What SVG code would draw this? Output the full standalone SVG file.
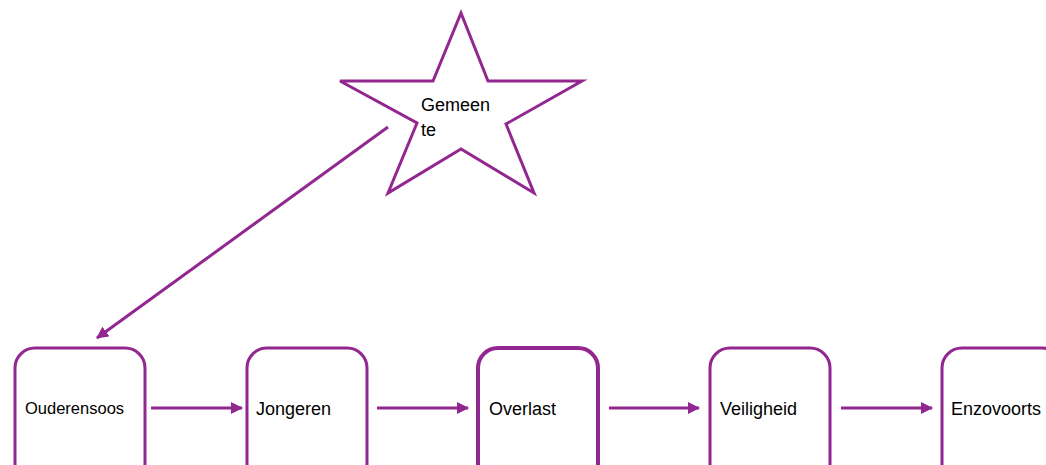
<svg xmlns="http://www.w3.org/2000/svg" width="1046" height="465" viewBox="0 0 1046 465">
  <style>
    .box { fill: #ffffff; stroke: #92278f; stroke-width: 3; }
    .thick { stroke-width: 4; }
    .star { fill: #ffffff; stroke: #92278f; stroke-width: 3; stroke-linejoin: miter; }
    .lbl { font-family: "Liberation Sans", Arial, sans-serif; font-size: 18px; fill: #000000; }
    .small { font-size: 16.5px; }
    .conn { stroke: #92278f; stroke-width: 3; fill: none; }
  </style>
  <defs>
    <marker id="arr" markerUnits="userSpaceOnUse" markerWidth="12" markerHeight="12" refX="11" refY="6" orient="auto">
      <path d="M0,0 L12,6 L0,12 Z" fill="#92278f"/>
    </marker>
  </defs>
  <rect width="1046" height="465" fill="#ffffff"/>

  <g id="connectors">
    <line class="conn" x1="388" y1="127" x2="97" y2="338" marker-end="url(#arr)"/>
    <line class="conn" x1="151" y1="408" x2="242" y2="408" marker-end="url(#arr)"/>
    <line class="conn" x1="377" y1="408" x2="468" y2="408" marker-end="url(#arr)"/>
    <line class="conn" x1="609" y1="408" x2="699" y2="408" marker-end="url(#arr)"/>
    <line class="conn" x1="841" y1="408" x2="932" y2="408" marker-end="url(#arr)"/>
  </g>

  <g id="gemeente">
    <polygon class="star" points="461,13 488,81 582,81 506,124 534,193 461,149 388,193 417,123 340,81 433,81"/>
    <text class="lbl" x="421" y="111">Gemeen</text>
    <text class="lbl" x="421" y="136">te</text>
  </g>

  <g id="ouderensoos">
    <rect class="box" x="15" y="348" width="130" height="135" rx="20" ry="20"/>
    <text class="lbl small" x="25" y="414">Ouderensoos</text>
  </g>

  <g id="jongeren">
    <rect class="box" x="247" y="348" width="120" height="135" rx="20" ry="20"/>
    <text class="lbl" x="256" y="415">Jongeren</text>
  </g>

  <g id="overlast">
    <rect class="box thick" x="478" y="348" width="120" height="135" rx="20" ry="20"/>
    <text class="lbl" x="489" y="415">Overlast</text>
  </g>

  <g id="veiligheid">
    <rect class="box" x="710" y="348" width="120" height="135" rx="20" ry="20"/>
    <text class="lbl" x="720" y="415">Veiligheid</text>
  </g>

  <g id="enzovoorts">
    <rect class="box" x="942" y="348" width="120" height="135" rx="20" ry="20"/>
    <text class="lbl" x="951" y="415">Enzovoorts</text>
  </g>
</svg>
